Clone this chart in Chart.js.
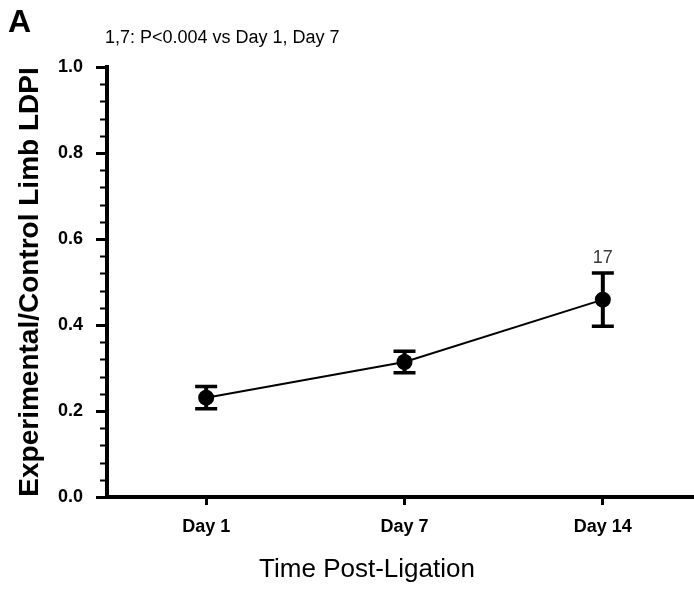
<!DOCTYPE html>
<html>
<head>
<meta charset="utf-8">
<script src="https://cdn.jsdelivr.net/npm/chart.js@4.4.1/dist/chart.umd.min.js"></script>
<style>
  html, body { margin: 0; padding: 0; background: #fff; overflow: hidden; }
  /* plot runs off the right edge in the figure, so the canvas is a bit wider than the window */
  #wrap { width: 710px; height: 590px; position: relative; }
</style>
</head>
<body>
<div id="wrap"><canvas id="ldpi-chart"></canvas></div>
<script>
// data
const days = ['Day 1', 'Day 7', 'Day 14'];
const ldpiMean = [0.231, 0.314, 0.459];
const ldpiErr = [0.026, 0.025, 0.062];
const nLabels = ['', '', '17'];
const yTicks = [0.0, 0.2, 0.4, 0.6, 0.8, 1.0];

const FONT = "'Liberation Sans', Arial, Helvetica, sans-serif";

// error bars + minor ticks + loose text
const extras = {
  id: 'extras',
  afterDatasetsDraw(chart) {
    const ctx = chart.ctx;
    const x = chart.scales.x, y = chart.scales.y;
    ctx.save();
    ctx.strokeStyle = '#000';
    ldpiMean.forEach((m, i) => {
      const px = x.getPixelForValue(i);
      const top = y.getPixelForValue(m + ldpiErr[i]);
      const bot = y.getPixelForValue(m - ldpiErr[i]);
      ctx.lineWidth = 4;
      ctx.beginPath();
      ctx.moveTo(px, top); ctx.lineTo(px, bot);
      ctx.stroke();
      ctx.lineWidth = 3.5;
      ctx.beginPath();
      ctx.moveTo(px - 11, top); ctx.lineTo(px + 11, top);
      ctx.moveTo(px - 11, bot); ctx.lineTo(px + 11, bot);
      ctx.stroke();
      if (nLabels[i]) {
        ctx.fillStyle = '#3a3a3a';
        ctx.font = '18px ' + FONT;
        ctx.textAlign = 'center';
        ctx.textBaseline = 'alphabetic';
        ctx.fillText(nLabels[i], px, top - 10);
      }
    });
    ctx.restore();
  },
  afterDraw(chart) {
    const ctx = chart.ctx;
    const y = chart.scales.y;
    const left = chart.chartArea.left;
    ctx.save();
    // minor ticks every 0.04
    ctx.strokeStyle = '#000';
    ctx.lineWidth = 2;
    ctx.beginPath();
    for (let i = 1; i < 25; i++) {
      if (i % 5 === 0) continue;
      const py = Math.round(y.getPixelForValue(i * 0.04)) + 0.5;
      ctx.moveTo(left - 7, py);
      ctx.lineTo(left, py);
    }
    ctx.stroke();

    ctx.fillStyle = '#000';
    ctx.textBaseline = 'alphabetic';
    ctx.textAlign = 'left';
    ctx.font = 'bold 32px ' + FONT;
    ctx.fillText('A', 8, 32);
    ctx.font = '18px ' + FONT;
    ctx.fillText('1,7: P<0.004 vs Day 1, Day 7', 105, 43);

    ctx.textAlign = 'center';
    ctx.font = '26px ' + FONT;
    ctx.fillText('Time Post-Ligation', 367, 577);
    ctx.restore();
  }
};

new Chart(document.getElementById('ldpi-chart'), {
  type: 'line',
  data: {
    labels: days,
    datasets: [{
      data: ldpiMean,
      borderColor: '#000',
      borderWidth: 2,
      backgroundColor: '#000',
      pointRadius: 8,
      pointBackgroundColor: '#000',
      pointBorderWidth: 0,
      tension: 0
    }]
  },
  options: {
    responsive: true,
    maintainAspectRatio: false,
    animation: false,
    events: [],
    layout: { padding: { top: 67, left: 0, right: 0, bottom: 0 } },
    plugins: {
      legend: { display: false },
      tooltip: { enabled: false }
    },
    scales: {
      x: {
        offset: true,
        afterFit: (s) => { s.height = 93; },
        grid: { offset: false, drawOnChartArea: false, tickLength: 8, tickWidth: 3, tickColor: '#000' },
        border: { color: '#000', width: 4 },
        ticks: { color: '#000', padding: 11, font: { family: FONT, size: 18, weight: 'bold' } }
      },
      y: {
        min: 0,
        max: 1,
        afterFit: (s) => { s.width = 107; },
        afterBuildTicks: (s) => { s.ticks = yTicks.map(v => ({ value: v })); },
        grid: { drawOnChartArea: false, tickLength: 11, tickWidth: 3, tickColor: '#000' },
        border: { color: '#000', width: 4 },
        ticks: {
          color: '#000',
          padding: 13,
          font: { family: FONT, size: 18, weight: 'bold' },
          callback: (v) => Number(v).toFixed(1)
        },
        title: {
          display: true,
          text: 'Experimental/Control Limb LDPI',
          color: '#000',
          font: { family: FONT, size: 28, weight: 'bold' },
          padding: { top: 13, bottom: 0 }
        }
      }
    }
  },
  plugins: [extras]
});
</script>
</body>
</html>
